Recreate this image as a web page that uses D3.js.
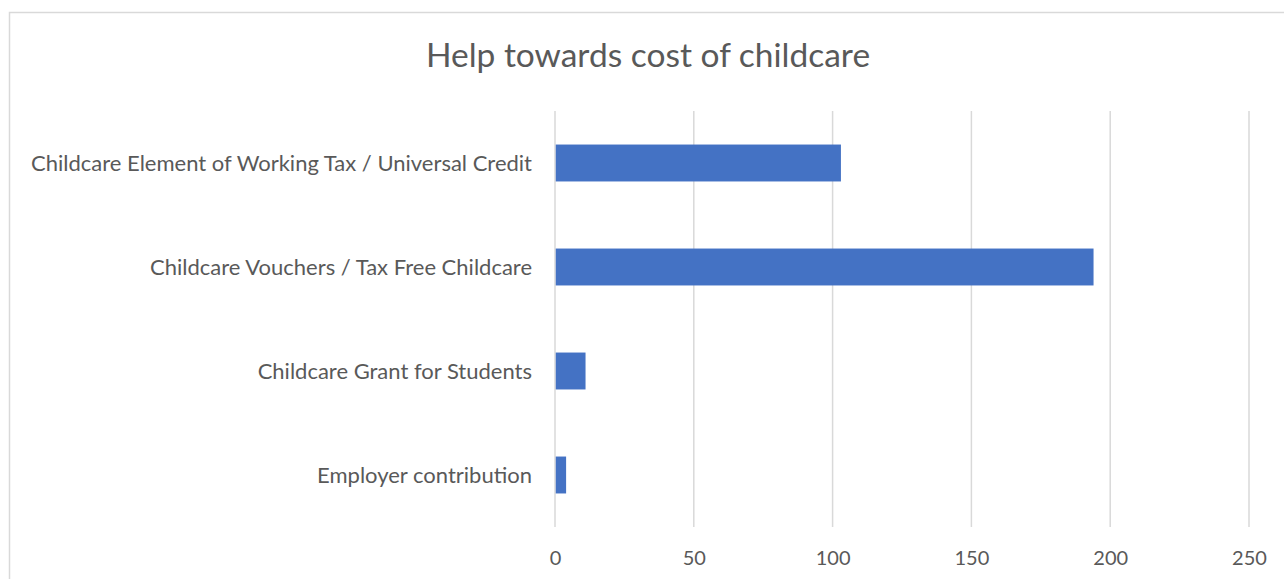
<!DOCTYPE html>
<html>
<head>
<meta charset="utf-8">
<script src="https://cdn.jsdelivr.net/npm/d3@7"></script>
<style>
html,body{margin:0;padding:0;background:#fff;overflow:hidden;}
svg{display:block;}
</style>
</head>
<body>
<svg id="chart" width="1284" height="579"></svg>
<script>
const categories = [
  "Childcare Element of Working Tax / Universal Credit",
  "Childcare Vouchers / Tax Free Childcare",
  "Childcare Grant for Students",
  "Employer contribution"
];
const values = [103, 194, 11, 4];
const xTicks = [0, 50, 100, 150, 200, 250];
const title = "Help towards cost of childcare";

const W = 1284, H = 579;
const svg = d3.select("#chart");
const font = "Lato, 'Open Sans', sans-serif";
const textColor = "#595959";

// chart frame
svg.append("rect")
  .attr("x", 9.5).attr("y", 12.5)
  .attr("width", W + 20).attr("height", H + 20)
  .attr("fill", "#fff")
  .attr("stroke", "#d9d9d9").attr("stroke-width", 1.5);

const plot = {left: 555, right: 1249, top: 111, bottom: 527};

const x = d3.scaleLinear().domain([0, 250]).range([plot.left, plot.right]);
const y = d3.scaleBand().domain(categories).range([plot.top, plot.bottom]).paddingInner(0.645).paddingOuter(0.3225);

// gridlines
svg.append("g").selectAll("line").data(xTicks).join("line")
  .attr("x1", d => x(d)).attr("x2", d => x(d))
  .attr("y1", plot.top).attr("y2", plot.bottom)
  .attr("stroke", "#d9d9d9").attr("stroke-width", 1.5);

// bars
svg.append("g").selectAll("rect").data(values).join("rect")
  .attr("x", x(0) + 0.75)
  .attr("y", (d, i) => y(categories[i]))
  .attr("width", d => x(d) - x(0) - 0.75)
  .attr("height", y.bandwidth())
  .attr("fill", "#4472C4");

// x axis labels
const xAxis = d3.axisBottom(x).tickValues(xTicks).tickSize(0).tickPadding(0);
const gx = svg.append("g").attr("transform", `translate(0,${plot.bottom + 31})`).call(xAxis);
gx.select(".domain").remove();
gx.selectAll("text")
  .attr("y", 0).attr("dy", "0.35em")
  .attr("fill", textColor)
  .style("font-family", font).style("font-size", "20px");

// y axis labels
const yAxis = d3.axisLeft(y).tickSize(0).tickPadding(0);
const gy = svg.append("g").attr("transform", `translate(${plot.left - 23},0)`).call(yAxis);
gy.select(".domain").remove();
gy.selectAll("text")
  .attr("x", 0).attr("dy", "0.35em")
  .attr("fill", textColor)
  .style("font-family", font).style("font-size", "22px");

// title
svg.append("text")
  .attr("x", 648).attr("y", 67)
  .attr("text-anchor", "middle")
  .attr("fill", textColor)
  .style("font-family", font).style("font-size", "33.5px")
  .text(title);
</script>
</body>
</html>
